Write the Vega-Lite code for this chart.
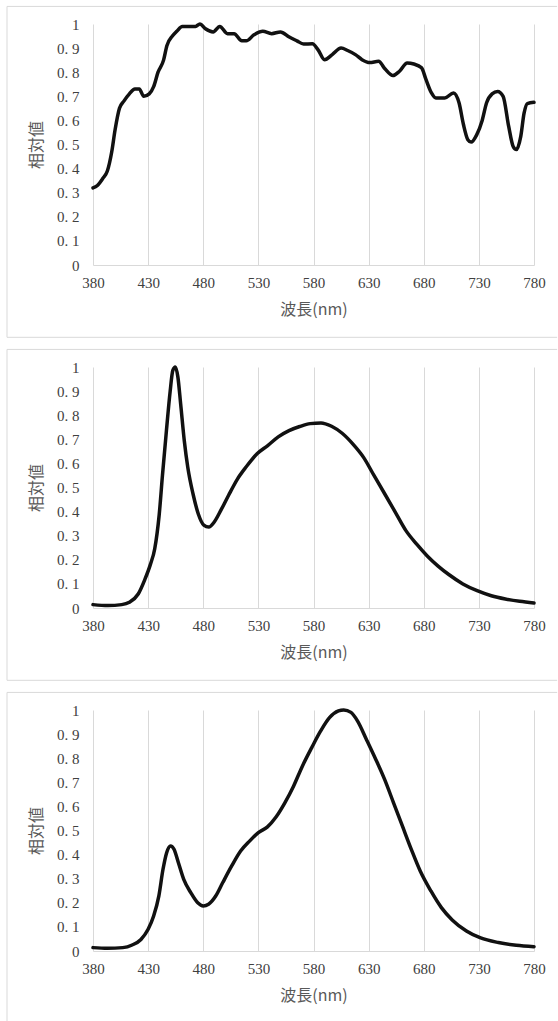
{
  "$schema": "https://vega.github.io/schema/vega-lite/v6.json",
  "padding": {"left": 6, "top": 5, "right": 0, "bottom": 0},
  "background": "white",
  "datasets": {
    "p1": [
      {"wl": 380, "v": 0.32}, {"wl": 384, "v": 0.33}, {"wl": 389, "v": 0.36}, {"wl": 393, "v": 0.39},
      {"wl": 397, "v": 0.47}, {"wl": 400, "v": 0.56}, {"wl": 404, "v": 0.65}, {"wl": 408, "v": 0.68},
      {"wl": 413, "v": 0.71}, {"wl": 418, "v": 0.73}, {"wl": 422, "v": 0.73}, {"wl": 426, "v": 0.70},
      {"wl": 431, "v": 0.71}, {"wl": 435, "v": 0.74}, {"wl": 439, "v": 0.80}, {"wl": 444, "v": 0.85},
      {"wl": 447, "v": 0.91}, {"wl": 452, "v": 0.95}, {"wl": 456, "v": 0.97}, {"wl": 461, "v": 0.99},
      {"wl": 468, "v": 0.99}, {"wl": 473, "v": 0.99}, {"wl": 477, "v": 1.0}, {"wl": 482, "v": 0.98},
      {"wl": 489, "v": 0.967}, {"wl": 495, "v": 0.99}, {"wl": 502, "v": 0.96}, {"wl": 508, "v": 0.96},
      {"wl": 515, "v": 0.93}, {"wl": 519, "v": 0.93}, {"wl": 526, "v": 0.955}, {"wl": 534, "v": 0.97},
      {"wl": 542, "v": 0.96}, {"wl": 550, "v": 0.967}, {"wl": 558, "v": 0.946}, {"wl": 565, "v": 0.93},
      {"wl": 571, "v": 0.917}, {"wl": 579, "v": 0.918}, {"wl": 584, "v": 0.894}, {"wl": 590, "v": 0.852},
      {"wl": 597, "v": 0.873}, {"wl": 605, "v": 0.90}, {"wl": 611, "v": 0.89}, {"wl": 618, "v": 0.873},
      {"wl": 624, "v": 0.852}, {"wl": 631, "v": 0.84}, {"wl": 639, "v": 0.845}, {"wl": 645, "v": 0.813},
      {"wl": 652, "v": 0.786}, {"wl": 658, "v": 0.804}, {"wl": 665, "v": 0.838}, {"wl": 671, "v": 0.834},
      {"wl": 678, "v": 0.818}, {"wl": 682, "v": 0.77}, {"wl": 687, "v": 0.714}, {"wl": 691, "v": 0.693},
      {"wl": 699, "v": 0.693}, {"wl": 707, "v": 0.714}, {"wl": 712, "v": 0.673}, {"wl": 716, "v": 0.583},
      {"wl": 720, "v": 0.52}, {"wl": 723, "v": 0.51}, {"wl": 728, "v": 0.54}, {"wl": 733, "v": 0.60},
      {"wl": 737, "v": 0.673}, {"wl": 742, "v": 0.71}, {"wl": 747, "v": 0.72}, {"wl": 752, "v": 0.70},
      {"wl": 757, "v": 0.576}, {"wl": 761, "v": 0.493}, {"wl": 764, "v": 0.479}, {"wl": 768, "v": 0.534},
      {"wl": 771, "v": 0.63}, {"wl": 774, "v": 0.67}, {"wl": 780, "v": 0.675}
    ],
    "p2": [
      {"wl": 380, "v": 0.014}, {"wl": 393.5, "v": 0.01}, {"wl": 406, "v": 0.014}, {"wl": 413, "v": 0.024},
      {"wl": 421, "v": 0.058}, {"wl": 427, "v": 0.118}, {"wl": 432, "v": 0.18}, {"wl": 436, "v": 0.246},
      {"wl": 440, "v": 0.385}, {"wl": 443, "v": 0.55}, {"wl": 446.6, "v": 0.736}, {"wl": 450, "v": 0.90},
      {"wl": 452.4, "v": 0.986}, {"wl": 454.7, "v": 1.0}, {"wl": 457, "v": 0.958}, {"wl": 459.5, "v": 0.847},
      {"wl": 462.8, "v": 0.694}, {"wl": 466, "v": 0.583}, {"wl": 470.8, "v": 0.472}, {"wl": 475.6, "v": 0.389},
      {"wl": 480.5, "v": 0.344}, {"wl": 485, "v": 0.336}, {"wl": 490, "v": 0.357}, {"wl": 496.5, "v": 0.41},
      {"wl": 503, "v": 0.468}, {"wl": 511, "v": 0.535}, {"wl": 519, "v": 0.586}, {"wl": 528.8, "v": 0.64},
      {"wl": 538.5, "v": 0.674}, {"wl": 548, "v": 0.71}, {"wl": 557.8, "v": 0.736}, {"wl": 567.5, "v": 0.753},
      {"wl": 577, "v": 0.765}, {"wl": 586.8, "v": 0.768}, {"wl": 596.4, "v": 0.754}, {"wl": 606, "v": 0.725},
      {"wl": 615.8, "v": 0.68}, {"wl": 625.4, "v": 0.625}, {"wl": 635, "v": 0.549}, {"wl": 644.8, "v": 0.472},
      {"wl": 654.4, "v": 0.396}, {"wl": 664, "v": 0.32}, {"wl": 673.8, "v": 0.264}, {"wl": 683.4, "v": 0.215},
      {"wl": 693, "v": 0.174}, {"wl": 702.7, "v": 0.139}, {"wl": 715.5, "v": 0.10}, {"wl": 728.4, "v": 0.072},
      {"wl": 741.3, "v": 0.051}, {"wl": 754, "v": 0.0375}, {"wl": 767, "v": 0.028}, {"wl": 780, "v": 0.021}
    ],
    "p3": [
      {"wl": 380, "v": 0.014}, {"wl": 393, "v": 0.011}, {"wl": 407, "v": 0.014}, {"wl": 415.5, "v": 0.025},
      {"wl": 423.5, "v": 0.048}, {"wl": 430, "v": 0.09}, {"wl": 435, "v": 0.145}, {"wl": 439.7, "v": 0.228},
      {"wl": 443.5, "v": 0.339}, {"wl": 446.8, "v": 0.408}, {"wl": 450.3, "v": 0.436}, {"wl": 453.5, "v": 0.422},
      {"wl": 457.4, "v": 0.367}, {"wl": 462.3, "v": 0.297}, {"wl": 468.7, "v": 0.242}, {"wl": 475, "v": 0.20},
      {"wl": 480, "v": 0.187}, {"wl": 484.8, "v": 0.194}, {"wl": 491.3, "v": 0.228}, {"wl": 497.7, "v": 0.284},
      {"wl": 505.8, "v": 0.353}, {"wl": 513.9, "v": 0.415}, {"wl": 522, "v": 0.456}, {"wl": 530, "v": 0.491},
      {"wl": 538, "v": 0.514}, {"wl": 546, "v": 0.556}, {"wl": 554, "v": 0.615}, {"wl": 562, "v": 0.685},
      {"wl": 570, "v": 0.768}, {"wl": 578.4, "v": 0.844}, {"wl": 586.5, "v": 0.913}, {"wl": 594.5, "v": 0.968},
      {"wl": 602.6, "v": 0.996}, {"wl": 607.4, "v": 1.0}, {"wl": 614, "v": 0.99}, {"wl": 620, "v": 0.954},
      {"wl": 628, "v": 0.878}, {"wl": 636.5, "v": 0.795}, {"wl": 644.5, "v": 0.712}, {"wl": 652.6, "v": 0.615},
      {"wl": 660.6, "v": 0.519}, {"wl": 668.7, "v": 0.422}, {"wl": 676.8, "v": 0.332}, {"wl": 686.5, "v": 0.249},
      {"wl": 696, "v": 0.18}, {"wl": 705.8, "v": 0.129}, {"wl": 718.7, "v": 0.083}, {"wl": 731.6, "v": 0.054},
      {"wl": 747.7, "v": 0.035}, {"wl": 763.9, "v": 0.0235}, {"wl": 780, "v": 0.018}
    ]
  },
  "vconcat": [
    {
      "width": 441, "height": 241,
      "resolve": {"scale": {"x": "independent", "y": "independent"}},
      "layer": [
        {
          "data": {"name": "p1"},
          "mark": {"type": "line", "color": "#111111", "strokeWidth": 3.5, "interpolate": "monotone", "strokeCap": "round", "strokeJoin": "round"},
          "encoding": {
            "x": {"field": "wl", "type": "quantitative", "scale": {"domain": [380, 780], "nice": false, "zero": false},
              "axis": {"title": "波長(nm)", "values": [380, 430, 480, 530, 580, 630, 680, 730, 780], "grid": true, "gridColor": "#d9d9d9", "gridWidth": 1, "domain": true, "domainColor": "#d9d9d9", "domainWidth": 1, "ticks": false, "labelFont": "Liberation Serif", "labelFontSize": 15, "labelColor": "#404040", "labelPadding": 10, "labelOverlap": false, "labelFlush": false, "labelBound": false, "titleFont": "Noto Sans CJK JP", "titleFontSize": 16, "titleFontWeight": "normal", "titleColor": "#595959", "titlePadding": 11}},
            "y": {"field": "v", "type": "quantitative", "scale": {"domain": [0, 1], "nice": false},
              "axis": {"title": "相対値", "values": [0, 0.1, 0.2, 0.3, 0.4, 0.5, 0.6, 0.7, 0.8, 0.9, 1], "grid": false, "domain": false, "ticks": false, "labelExpr": "datum.value == 0 ? '0' : datum.value == 1 ? '1' : replace(format(datum.value, '.1f'), '.', '. ')", "labelFont": "Liberation Serif", "labelFontSize": 15, "labelColor": "#404040", "labelPadding": 14, "labelOverlap": false, "labelFlush": false, "labelBound": false, "titleFont": "Noto Sans CJK JP", "titleFontSize": 16, "titleFontWeight": "normal", "titleColor": "#595959", "titlePadding": 12}}
          }
        },
        {"data": {"values": [{}]}, "mark": {"type": "rule", "color": "#d9d9d9", "strokeWidth": 1},
         "encoding": {"x": {"datum": 302, "type": "quantitative", "scale": {"domain": [380, 780], "nice": false, "zero": false}, "axis": null}, "x2": {"datum": 801}, "y": {"datum": 1.073, "type": "quantitative", "scale": {"domain": [0, 1], "nice": false}, "axis": null}}},
        {"data": {"values": [{}]}, "mark": {"type": "rule", "color": "#d9d9d9", "strokeWidth": 1},
         "encoding": {"x": {"datum": 302, "type": "quantitative", "scale": {"domain": [380, 780], "nice": false, "zero": false}, "axis": null}, "x2": {"datum": 801}, "y": {"datum": -0.3, "type": "quantitative", "scale": {"domain": [0, 1], "nice": false}, "axis": null}}},
        {"data": {"values": [{}]}, "mark": {"type": "rule", "color": "#d9d9d9", "strokeWidth": 1},
         "encoding": {"x": {"datum": 302, "type": "quantitative", "scale": {"domain": [380, 780], "nice": false, "zero": false}, "axis": null}, "y": {"datum": -0.3, "type": "quantitative", "scale": {"domain": [0, 1], "nice": false}, "axis": null}, "y2": {"datum": 1.073}}}
      ]
    },
    {
      "width": 441, "height": 241,
      "resolve": {"scale": {"x": "independent", "y": "independent"}},
      "layer": [
        {
          "data": {"name": "p2"},
          "mark": {"type": "line", "color": "#111111", "strokeWidth": 3.5, "interpolate": "monotone", "strokeCap": "round", "strokeJoin": "round"},
          "encoding": {
            "x": {"field": "wl", "type": "quantitative", "scale": {"domain": [380, 780], "nice": false, "zero": false},
              "axis": {"title": "波長(nm)", "values": [380, 430, 480, 530, 580, 630, 680, 730, 780], "grid": true, "gridColor": "#d9d9d9", "gridWidth": 1, "domain": true, "domainColor": "#d9d9d9", "domainWidth": 1, "ticks": false, "labelFont": "Liberation Serif", "labelFontSize": 15, "labelColor": "#404040", "labelPadding": 10, "labelOverlap": false, "labelFlush": false, "labelBound": false, "titleFont": "Noto Sans CJK JP", "titleFontSize": 16, "titleFontWeight": "normal", "titleColor": "#595959", "titlePadding": 11}},
            "y": {"field": "v", "type": "quantitative", "scale": {"domain": [0, 1], "nice": false},
              "axis": {"title": "相対値", "values": [0, 0.1, 0.2, 0.3, 0.4, 0.5, 0.6, 0.7, 0.8, 0.9, 1], "grid": false, "domain": false, "ticks": false, "labelExpr": "datum.value == 0 ? '0' : datum.value == 1 ? '1' : replace(format(datum.value, '.1f'), '.', '. ')", "labelFont": "Liberation Serif", "labelFontSize": 15, "labelColor": "#404040", "labelPadding": 14, "labelOverlap": false, "labelFlush": false, "labelBound": false, "titleFont": "Noto Sans CJK JP", "titleFontSize": 16, "titleFontWeight": "normal", "titleColor": "#595959", "titlePadding": 12}}
          }
        },
        {"data": {"values": [{}]}, "mark": {"type": "rule", "color": "#d9d9d9", "strokeWidth": 1},
         "encoding": {"x": {"datum": 302, "type": "quantitative", "scale": {"domain": [380, 780], "nice": false, "zero": false}, "axis": null}, "x2": {"datum": 801}, "y": {"datum": 1.073, "type": "quantitative", "scale": {"domain": [0, 1], "nice": false}, "axis": null}}},
        {"data": {"values": [{}]}, "mark": {"type": "rule", "color": "#d9d9d9", "strokeWidth": 1},
         "encoding": {"x": {"datum": 302, "type": "quantitative", "scale": {"domain": [380, 780], "nice": false, "zero": false}, "axis": null}, "x2": {"datum": 801}, "y": {"datum": -0.3, "type": "quantitative", "scale": {"domain": [0, 1], "nice": false}, "axis": null}}},
        {"data": {"values": [{}]}, "mark": {"type": "rule", "color": "#d9d9d9", "strokeWidth": 1},
         "encoding": {"x": {"datum": 302, "type": "quantitative", "scale": {"domain": [380, 780], "nice": false, "zero": false}, "axis": null}, "y": {"datum": -0.3, "type": "quantitative", "scale": {"domain": [0, 1], "nice": false}, "axis": null}, "y2": {"datum": 1.073}}}
      ]
    },
    {
      "width": 441, "height": 241,
      "resolve": {"scale": {"x": "independent", "y": "independent"}},
      "layer": [
        {
          "data": {"name": "p3"},
          "mark": {"type": "line", "color": "#111111", "strokeWidth": 3.5, "interpolate": "monotone", "strokeCap": "round", "strokeJoin": "round"},
          "encoding": {
            "x": {"field": "wl", "type": "quantitative", "scale": {"domain": [380, 780], "nice": false, "zero": false},
              "axis": {"title": "波長(nm)", "values": [380, 430, 480, 530, 580, 630, 680, 730, 780], "grid": true, "gridColor": "#d9d9d9", "gridWidth": 1, "domain": true, "domainColor": "#d9d9d9", "domainWidth": 1, "ticks": false, "labelFont": "Liberation Serif", "labelFontSize": 15, "labelColor": "#404040", "labelPadding": 10, "labelOverlap": false, "labelFlush": false, "labelBound": false, "titleFont": "Noto Sans CJK JP", "titleFontSize": 16, "titleFontWeight": "normal", "titleColor": "#595959", "titlePadding": 11}},
            "y": {"field": "v", "type": "quantitative", "scale": {"domain": [0, 1], "nice": false},
              "axis": {"title": "相対値", "values": [0, 0.1, 0.2, 0.3, 0.4, 0.5, 0.6, 0.7, 0.8, 0.9, 1], "grid": false, "domain": false, "ticks": false, "labelExpr": "datum.value == 0 ? '0' : datum.value == 1 ? '1' : replace(format(datum.value, '.1f'), '.', '. ')", "labelFont": "Liberation Serif", "labelFontSize": 15, "labelColor": "#404040", "labelPadding": 14, "labelOverlap": false, "labelFlush": false, "labelBound": false, "titleFont": "Noto Sans CJK JP", "titleFontSize": 16, "titleFontWeight": "normal", "titleColor": "#595959", "titlePadding": 12}}
          }
        },
        {"data": {"values": [{}]}, "mark": {"type": "rule", "color": "#d9d9d9", "strokeWidth": 1},
         "encoding": {"x": {"datum": 302, "type": "quantitative", "scale": {"domain": [380, 780], "nice": false, "zero": false}, "axis": null}, "x2": {"datum": 801}, "y": {"datum": 1.073, "type": "quantitative", "scale": {"domain": [0, 1], "nice": false}, "axis": null}}},
        {"data": {"values": [{}]}, "mark": {"type": "rule", "color": "#d9d9d9", "strokeWidth": 1},
         "encoding": {"x": {"datum": 302, "type": "quantitative", "scale": {"domain": [380, 780], "nice": false, "zero": false}, "axis": null}, "x2": {"datum": 801}, "y": {"datum": -0.3, "type": "quantitative", "scale": {"domain": [0, 1], "nice": false}, "axis": null}}},
        {"data": {"values": [{}]}, "mark": {"type": "rule", "color": "#d9d9d9", "strokeWidth": 1},
         "encoding": {"x": {"datum": 302, "type": "quantitative", "scale": {"domain": [380, 780], "nice": false, "zero": false}, "axis": null}, "y": {"datum": -0.3, "type": "quantitative", "scale": {"domain": [0, 1], "nice": false}, "axis": null}, "y2": {"datum": 1.073}}}
      ]
    }
  ],
  "config": {
    "view": {"stroke": null},
    "concat": {"spacing": 10}
  }
}
